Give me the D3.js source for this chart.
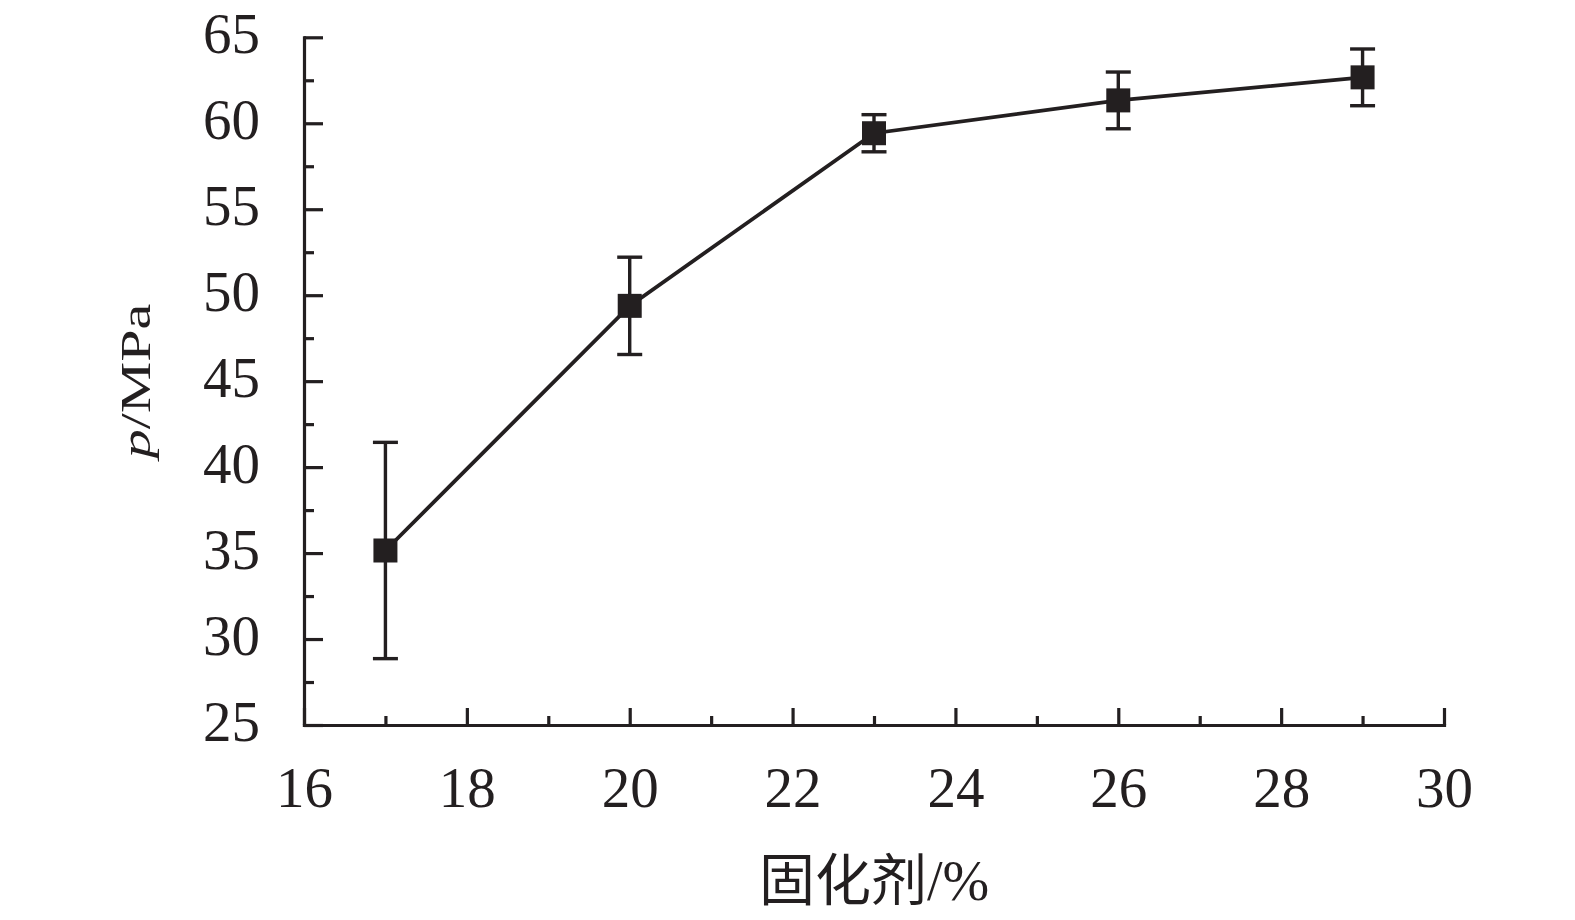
<!DOCTYPE html>
<html>
<head>
<meta charset="utf-8">
<script src="https://cdn.jsdelivr.net/npm/d3@7"></script>
<style>
  html, body { margin: 0; padding: 0; background: #fff; }
  svg { display: block; }
</style>
</head>
<body>
<svg id="chart" width="1575" height="920"></svg>
<script>
const xValues = [17, 20, 23, 26, 29];
const pValues = [35.15, 49.38, 59.42, 61.33, 62.67];
const errValues = [6.29, 2.83, 1.08, 1.65, 1.65];
const xMajorTicks = [16, 18, 20, 22, 24, 26, 28, 30];
const xMinorTicks = [17, 19, 21, 23, 25, 27, 29];
const yMajorTicks = [25, 30, 35, 40, 45, 50, 55, 60, 65];
const yMinorTicks = [27.5, 32.5, 37.5, 42.5, 47.5, 52.5, 57.5, 62.5];
const xTitle = "固化剂/%";

const ink = "#231f20";
const svg = d3.select("#chart");
const x = d3.scaleLinear().domain([16, 30]).range([304, 1444]);
const y = d3.scaleLinear().domain([25, 65]).range([725, 37.3]);

const fontFamily = "'Liberation Serif', 'Times New Roman', serif";

function styleAxis(g) {
  g.select(".domain").attr("stroke", ink).attr("stroke-width", 3.2).attr("stroke-linecap", "square");
  g.selectAll(".tick line").attr("stroke", ink).attr("stroke-width", 3.2);
  g.selectAll(".tick text").attr("fill", ink).style("font-family", fontFamily).style("font-size", "57px");
}

// Y axis
const yMinorG = svg.append("g").attr("transform", "translate(304,0)")
  .call(d3.axisLeft(y).tickValues(yMinorTicks).tickSize(-10).tickSizeOuter(0).tickFormat(""));
styleAxis(yMinorG);
yMinorG.select(".domain").remove();
const yG = svg.append("g").attr("transform", "translate(304,0)")
  .call(d3.axisLeft(y).tickValues(yMajorTicks).tickSize(-19).tickSizeOuter(0).tickPadding(44).tickFormat(d3.format("d")));
styleAxis(yG);
yG.selectAll(".tick text").attr("dy", "0.27em");

// X axis
const xMinorG = svg.append("g").attr("transform", "translate(0,725)")
  .call(d3.axisBottom(x).tickValues(xMinorTicks).tickSize(-9).tickSizeOuter(0).tickFormat(""));
styleAxis(xMinorG);
xMinorG.select(".domain").remove();
const xG = svg.append("g").attr("transform", "translate(0,725)")
  .call(d3.axisBottom(x).tickValues(xMajorTicks).tickSize(-17).tickSizeOuter(0).tickPadding(42).tickFormat(d3.format("d")));
styleAxis(xG);

const data = xValues.map((v, i) => ({ x: v, p: pValues[i], e: errValues[i] }));

// Line
svg.append("path")
  .datum(data)
  .attr("fill", "none")
  .attr("stroke", ink)
  .attr("stroke-width", 3.8)
  .attr("d", d3.line().x(d => x(d.x)).y(d => y(d.p)));

// Error bars
const eb = svg.append("g").attr("stroke", ink).attr("stroke-width", 3.4);
eb.selectAll("line.v").data(data).join("line").attr("class", "v")
  .attr("x1", d => x(d.x)).attr("x2", d => x(d.x))
  .attr("y1", d => y(d.p + d.e)).attr("y2", d => y(d.p - d.e));
eb.selectAll("line.t").data(data).join("line").attr("class", "t")
  .attr("x1", d => x(d.x) - 12.5).attr("x2", d => x(d.x) + 12.5)
  .attr("y1", d => y(d.p + d.e)).attr("y2", d => y(d.p + d.e));
eb.selectAll("line.b").data(data).join("line").attr("class", "b")
  .attr("x1", d => x(d.x) - 12.5).attr("x2", d => x(d.x) + 12.5)
  .attr("y1", d => y(d.p - d.e)).attr("y2", d => y(d.p - d.e));

// Markers
svg.append("g").selectAll("rect").data(data).join("rect")
  .attr("x", d => x(d.x) - 12).attr("y", d => y(d.p) - 12)
  .attr("width", 24).attr("height", 24)
  .attr("fill", ink);

// Y title
const yt = svg.append("text")
  .attr("transform", "translate(150,381) rotate(-90) scale(1,0.74)")
  .attr("text-anchor", "middle")
  .attr("fill", ink)
  .style("font-family", fontFamily)
  .style("font-size", "58px");
yt.append("tspan").style("font-style", "italic").text("p");
yt.append("tspan").text("/MPa");

// X title
svg.append("text")
  .attr("x", 874).attr("y", 900)
  .attr("text-anchor", "middle")
  .attr("fill", ink)
  .style("font-family", "'Liberation Serif', 'Noto Sans CJK SC', serif")
  .style("font-size", "56px")
  .text(xTitle);
</script>
</body>
</html>
